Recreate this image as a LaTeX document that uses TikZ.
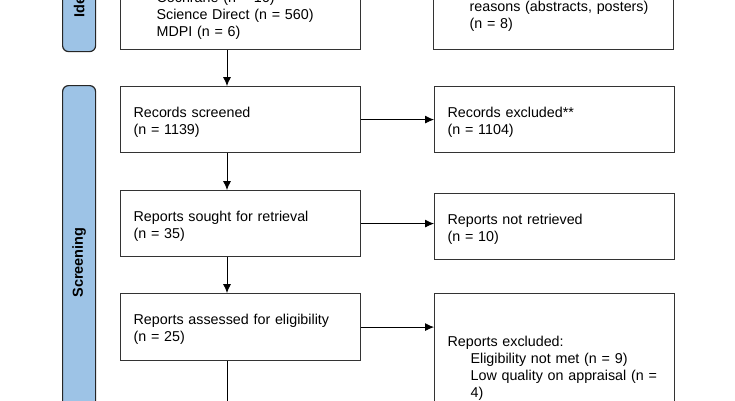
\documentclass[tikz,border=0pt]{standalone}
\usepackage{fontspec}
\setmainfont{Liberation Sans}
\usetikzlibrary{arrows.meta,calc}
\definecolor{barblue}{HTML}{9DC3E6}
\begin{document}
\begin{tikzpicture}[x=1pt,y=-1pt,
  box/.style={draw=black!80, line width=1.2pt, rectangle, align=left, text width=214pt,
    inner xsep=13pt, inner ysep=0pt, minimum width=240pt, anchor=north west,
    font=\fontsize{14.3}{17}\selectfont, execute at begin node={\leavevmode\rule{0pt}{15.5pt}}},
  bar/.style={draw=black!85, line width=1.2pt, fill=barblue, rounded corners=6pt,
    minimum width=33pt, anchor=north west, inner sep=0pt},
  bartext/.style={font=\bfseries\fontsize{14.5}{17}\selectfont, rotate=90},
  arr/.style={-{Latex[length=9pt,width=8pt]}, line width=0.8pt},
  ln/.style={line width=0.8pt}]
\useasboundingbox (0,0) rectangle (735,400);
\clip (0,0) rectangle (735,400);
\fill[white] (0,0) rectangle (735,400);

% phase bars
\node[bar, minimum height=158pt] (idbar) at (62,-107) {};
\node[bartext] (idtext) at (idbar.center) {Identification};
\node[bar, minimum height=354pt] (scrbar) at (62,85) {};
\node[bartext] (scrtext) at (scrbar.center) {Screening};

% boxes
\node[box, minimum height=72pt] (ident) at (120,-23)
  {\hspace*{23pt}Cochrane (n = 16)\\\hspace*{23pt}Science Direct (n = 560)\\\hspace*{23pt}MDPI (n = 6)};
\node[box, minimum height=71pt] (removed) at (433,-22)
  {\hspace*{23pt}reasons (abstracts, posters)\\\hspace*{23pt}(n = 8)};
\node[box, minimum height=66pt] (screened) at (120,86) {Records screened\\(n = 1139)};
\node[box, minimum height=66pt] (excl1) at (434,86) {Records excluded**\\(n = 1104)};
\node[box, minimum height=66pt] (sought) at (120,190) {Reports sought for retrieval\\(n = 35)};
\node[box, minimum height=66pt] (notret) at (434,193) {Reports not retrieved\\(n = 10)};
\node[box, minimum height=67pt] (assessed) at (120,293) {Reports assessed for eligibility\\(n = 25)};
\node[box, minimum height=145pt] (excl2) at (434,293)
  {Reports excluded:\\\hspace*{23pt}Eligibility not met (n = 9)\\\hspace*{23pt}Low quality on appraisal (n =\\\hspace*{23pt}4)};

% connectors
\coordinate (ax) at (227,0);
\coordinate (down) at (227,430);
\draw[arr] (ident.south -| ax) -- (screened.north -| ax);
\draw[arr] (screened.south -| ax) -- (sought.north -| ax);
\draw[arr] (sought.south -| ax) -- (assessed.north -| ax);
\draw[arr] (assessed.south -| ax) -- (down);
\draw[arr] (screened.east) -- (screened.east -| excl1.west);
\draw[arr] (sought.east) -- (sought.east -| notret.west);
\draw[arr] (assessed.east) -- (assessed.east -| excl2.west);
\end{tikzpicture}
\end{document}
